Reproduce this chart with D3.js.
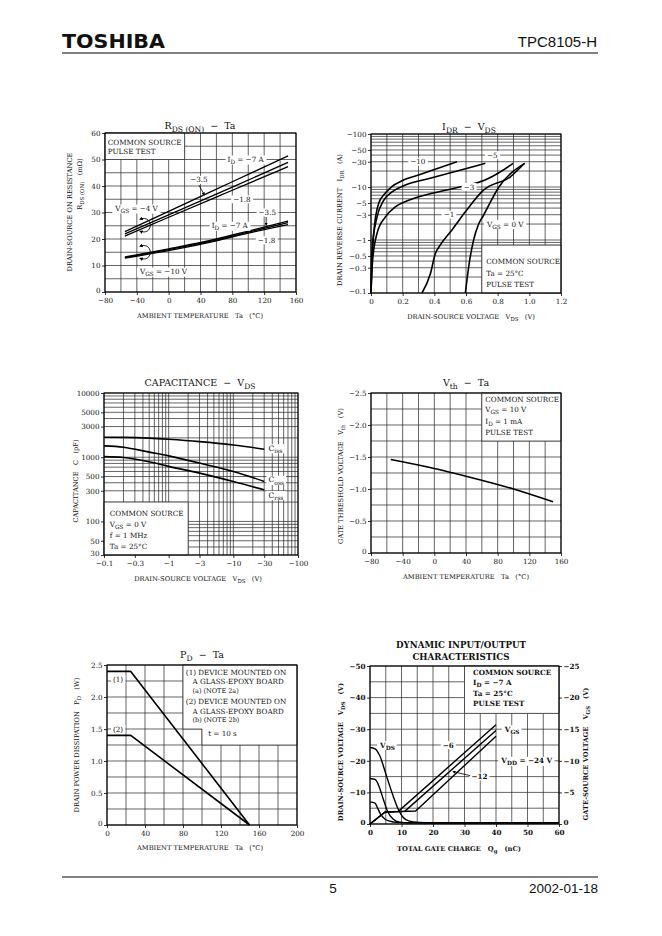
<!DOCTYPE html>
<html><head><meta charset="utf-8">
<script src="https://cdn.jsdelivr.net/npm/d3@7/dist/d3.min.js"></script>
<style>html,body{margin:0;padding:0;background:#fff;}svg{display:block;}</style>
</head><body>
<svg id="page" width="662" height="936"></svg>
<script>
// ---------------- DATA ----------------
// RDS(ON) - Ta
const rdsTa4 = [-55, 0, 80, 150];
const rds4_7A = [22.8, 30.4, 41.6, 51.4];
const rds4_3p5A = [21.9, 29.1, 39.6, 48.9];
const rds4_1p8A = [21.1, 28.2, 38.4, 47.3];
const rdsTa10 = [-55, 0, 60, 100, 150];
const rds10_7A = [13.2, 16.3, 20.0, 23.0, 26.8];
const rds10_3p5A = [13.0, 16.0, 19.6, 22.6, 26.2];
const rds10_1p8A = [12.8, 15.6, 19.3, 22.2, 25.4];
const taTicks = [-80, -40, 0, 40, 80, 120, 160];
const taLabels = ['−80', '−40', '0', '40', '80', '120', '160'];
const rdsTicks = [0, 10, 20, 30, 40, 50, 60];
const rdsLabels = ['0', '10', '20', '30', '40', '50', '60'];

// IDR - VDS  (per VGS)
const idrV_10 = [0, 0.003, 0.017, 0.048, 0.09, 0.13, 0.196, 0.30, 0.543];
const idrI_10 = [0.1, 0.2, 1.33, 4.9, 7.6, 10.1, 13.1, 16.8, 30];
const idrV_5 = [0, 0.006, 0.038, 0.08, 0.133, 0.217, 0.385, 0.722];
const idrI_5 = [0.1, 0.64, 2.7, 5.6, 8.1, 10.9, 14.9, 28];
const idrV_3 = [0, 0.01, 0.038, 0.09, 0.153, 0.238, 0.385, 0.553, 0.72, 0.80, 0.897];
const idrI_3 = [0.1, 0.41, 1.33, 2.7, 4.2, 5.6, 7.6, 9.9, 13.5, 18, 28];
const idrV_1 = [0.322, 0.375, 0.406, 0.437, 0.51, 0.596, 0.71, 0.88, 0.97];
const idrI_1 = [0.1, 0.23, 0.55, 0.8, 1.53, 3.4, 8.7, 15.6, 28];
const idrV_0 = [0.596, 0.62, 0.648, 0.68, 0.71, 0.806, 0.97];
const idrI_0 = [0.1, 0.36, 1.0, 2.0, 2.9, 9.8, 28];
const vdsTicks = [0, 0.2, 0.4, 0.6, 0.8, 1.0, 1.2];
const vdsLabels = ['0', '0.2', '0.4', '0.6', '0.8', '1.0', '1.2'];
const idrTicks = [100, 50, 30, 10, 5, 3, 1, 0.5, 0.3, 0.1];
const idrLabels = ['−100', '−50', '−30', '−10', '−5', '−3', '−1', '−0.5', '−0.3', '−0.1'];

// Capacitance - VDS
const capV = [0.1, 0.2, 0.5, 1, 3, 10, 30];
const cIss = [2050, 2040, 1980, 1900, 1750, 1550, 1330];
const cOss = [1500, 1430, 1200, 1050, 810, 600, 420];
const cRss = [1020, 990, 850, 720, 565, 418, 310];
const capXTicks = [0.1, 0.3, 1, 3, 10, 30, 100];
const capXLabels = ['−0.1', '−0.3', '−1', '−3', '−10', '−30', '−100'];
const capYTicks = [10000, 5000, 3000, 1000, 500, 300, 100, 50, 30];
const capYLabels = ['10000', '5000', '3000', '1000', '500', '300', '100', '50', '30'];

// Vth - Ta
const vthTa = [-55, 0, 40, 100, 150];
const vthV = [1.46, 1.32, 1.20, 1.00, 0.80];
const vthTicks = [0, 0.5, 1.0, 1.5, 2.0, 2.5];
const vthLabels = ['0', '−0.5', '−1.0', '−1.5', '−2.0', '−2.5'];

// PD - Ta
const pdTa = [0, 25, 150];
const pd1 = [2.4, 2.4, 0];
const pd2 = [1.4, 1.4, 0];
const pdXTicks = [0, 40, 80, 120, 160, 200];
const pdXLabels = ['0', '40', '80', '120', '160', '200'];
const pdYTicks = [0, 0.5, 1.0, 1.5, 2.0, 2.5];
const pdYLabels = ['0', '0.5', '1.0', '1.5', '2.0', '2.5'];

// Dynamic input/output
const qgVds24 = [0, 1.6, 3.1, 5.2, 7.3, 8.9, 10.4, 12.5, 15.7, 20, 60];
const vds24 = [24.2, 23.8, 21.6, 15.3, 9.0, 4.8, 2.2, 0.9, 0.5, 0.4, 0.4];
const qgVds12 = [0, 1.6, 2.6, 4.2, 5.7, 7.3, 9.4, 12.5, 20, 60];
const vds12 = [14.4, 14.1, 12.6, 7.9, 3.7, 1.6, 0.6, 0.4, 0.4, 0.4];
const qgVds6 = [0, 1.6, 2.3, 3.3, 4.7, 6.3, 8.4, 12, 60];
const vds6 = [7.0, 6.6, 5.3, 3.2, 1.6, 0.9, 0.5, 0.4, 0.4];
const qgVgs6 = [0, 4.8, 9, 40];
const vgs6 = [0, 1.9, 2.0, 15.7];
const qgVgs12 = [0, 4.8, 11, 40];
const vgs12 = [0, 1.9, 2.0, 14.8];
const qgVgs24 = [0, 4.8, 14.5, 40];
const vgs24 = [0, 1.9, 2.05, 13.9];
const qgTicks = [0, 10, 20, 30, 40, 50, 60];
const qgLabels = ['0', '10', '20', '30', '40', '50', '60'];
const dynLTicks = [0, 10, 20, 30, 40, 50];
const dynLLabels = ['0', '−10', '−20', '−30', '−40', '−50'];
const dynRTicks = [0, 5, 10, 15, 20, 25];
const dynRLabels = ['0', '−5', '−10', '−15', '−20', '−25'];

// ---------------- HELPERS ----------------
const svg = d3.select('#page');
const SERIF = '"DejaVu Serif", "Liberation Serif", serif';
const GRID = '#222';
const INK = '#111';
const TICKFS = 7.2;
const defs = svg.append('defs');
defs.append('marker').attr('id', 'ah').attr('viewBox', '0 0 6 6').attr('refX', 5).attr('refY', 3)
  .attr('markerWidth', 4).attr('markerHeight', 4).attr('orient', 'auto-start-reverse')
  .append('path').attr('d', 'M0,0L6,3L0,6Z').attr('fill', '#000');

function rich(sel, str, fs) {
  const re = /_\{([^}]*)\}/g;
  let last = 0, m; const parts = [];
  while ((m = re.exec(str))) {
    if (m.index > last) parts.push({ t: str.slice(last, m.index), sub: false });
    parts.push({ t: m[1], sub: true });
    last = re.lastIndex;
  }
  if (last < str.length) parts.push({ t: str.slice(last), sub: false });
  let shifted = false;
  parts.forEach(p => {
    const ts = sel.append('tspan').text(p.t);
    if (p.sub) { ts.attr('font-size', fs * 0.8); if (!shifted) ts.attr('dy', fs * 0.28); shifted = true; }
    else if (shifted) { ts.attr('dy', -fs * 0.28); shifted = false; }
  });
}
function txt(g, x, y, str, o = {}) {
  const fs = o.fs || 7.2;
  const t = g.append('text').attr('x', x).attr('y', y)
    .attr('font-family', o.ff || SERIF).attr('font-size', fs)
    .attr('text-anchor', o.anchor || 'start')
    .attr('font-weight', o.bold ? 'bold' : 'normal')
    .attr('fill', INK).style('white-space', 'pre');
  if (o.rotate) t.attr('transform', `rotate(${o.rotate},${x},${y})`);
  if (o.len) t.attr('textLength', o.len).attr('lengthAdjust', 'spacingAndGlyphs');
  rich(t, str, fs);
  if (o.bg) {
    const b = t.node().getBBox();
    g.insert('rect', () => t.node()).attr('x', b.x - 2).attr('y', b.y + 0.5)
      .attr('width', b.width + 4).attr('height', b.height - 1).attr('fill', '#fff');
  }
  return t;
}
function styleAxis(a, bold) {
  a.select('.domain').remove();
  a.selectAll('.tick line').attr('stroke', '#000').attr('stroke-width', 0.8);
  a.selectAll('.tick text').attr('font-family', SERIF).attr('font-size', TICKFS)
    .attr('fill', INK).attr('font-weight', bold ? 'bold' : 'normal');
}
function fmt(ticks, labels) { return d => labels[ticks.findIndex(t => Math.abs(t - d) < 1e-9)]; }

function makePanel(o) {
  const g = svg.append('g');
  const x = o.x, y = o.y;
  const [L, R] = x.range(), [B, T] = y.range();
  const grid = g.append('g').attr('stroke', GRID).attr('stroke-width', 0.7).attr('fill', 'none');
  o.xGrid.forEach(v => grid.append('line').attr('x1', x(v)).attr('x2', x(v)).attr('y1', B).attr('y2', T));
  o.yGrid.forEach(v => grid.append('line').attr('x1', L).attr('x2', R).attr('y1', y(v)).attr('y2', y(v)));
  (o.masks || []).forEach(poly => grid.append('path')
    .attr('d', 'M' + poly.map(([a, b]) => x(a) + ',' + y(b)).join('L') + 'Z').attr('fill', '#fff'));
  g.append('rect').attr('x', L).attr('y', T).attr('width', R - L).attr('height', B - T)
    .attr('fill', 'none').attr('stroke', '#000').attr('stroke-width', 1.1);
  const ax = g.append('g').attr('transform', `translate(0,${B})`)
    .call(d3.axisBottom(x).tickValues(o.xTicks).tickFormat(fmt(o.xTicks, o.xLabels)).tickSize(3).tickPadding(3));
  styleAxis(ax, o.bold);
  const ay = g.append('g').attr('transform', `translate(${L},0)`)
    .call(d3.axisLeft(y).tickValues(o.yTicks).tickFormat(fmt(o.yTicks, o.yLabels)).tickSize(3).tickPadding(1.5));
  styleAxis(ay, o.bold);
  // lift the bottom-most y label slightly so it clears the x labels
  ay.selectAll('.tick').filter(d => Math.abs(y(d) - B) < 0.5).select('text').attr('dy', '0.1em');
  return { g, x, y };
}
function curve(P, xs, ys, opt = {}) {
  const pts = xs.map((v, i) => [v, ys[i]]);
  const yS = opt.y || P.y;
  P.g.append('path').datum(pts)
    .attr('d', d3.line().x(d => P.x(d[0])).y(d => yS(d[1])).curve(opt.linear ? d3.curveLinear : d3.curveMonotoneX))
    .attr('fill', 'none').attr('stroke', '#000').attr('stroke-width', opt.w || 1.6).attr('stroke-linejoin', 'round');
}
function lab(P, xv, yv, str, o = {}) {
  return txt(P.g, P.x(xv), P.y(yv) + (o.fs || 7.2) * 0.35, str, Object.assign({ bg: true }, o));
}
function leader(P, x1, y1, x2, y2) {
  P.g.append('line').attr('x1', P.x(x1)).attr('y1', P.y(y1)).attr('x2', P.x(x2)).attr('y2', P.y(y2))
    .attr('stroke', '#000').attr('stroke-width', 0.8).attr('marker-end', 'url(#ah)');
}
function rotArrow(P, xv, yv) {
  const cx = P.x(xv), cy = P.y(yv);
  P.g.append('path').attr('d', `M${cx - 5},${cy - 6} C${cx + 9},${cy - 11} ${cx + 9},${cy + 11} ${cx - 5},${cy + 6}`)
    .attr('fill', 'none').attr('stroke', '#000').attr('stroke-width', 0.9)
    .attr('marker-start', 'url(#ah)').attr('marker-end', 'url(#ah)');
}

// ---------------- PAGE HEADER / FOOTER ----------------
txt(svg, 62, 47.5, 'TOSHIBA', { ff: '"DejaVu Sans", sans-serif', fs: 19, bold: true, len: 103 });
txt(svg, 597, 47, 'TPC8105-H', { ff: '"Liberation Sans", Arial, sans-serif', fs: 15, anchor: 'end' });
svg.append('line').attr('x1', 62).attr('x2', 598).attr('y1', 53).attr('y2', 53).attr('stroke', '#000').attr('stroke-width', 1);
svg.append('line').attr('x1', 62).attr('x2', 598).attr('y1', 877).attr('y2', 877).attr('stroke', '#000').attr('stroke-width', 1);
txt(svg, 333, 893, '5', { ff: '"Liberation Sans", Arial, sans-serif', fs: 13.5, anchor: 'middle' });
txt(svg, 598, 893, '2002-01-18', { ff: '"Liberation Sans", Arial, sans-serif', fs: 13.5, anchor: 'end' });

// ---------------- PANEL 1: RDS(ON) - Ta ----------------
const P1 = makePanel({
  x: d3.scaleLinear([-80, 160], [105, 296]), y: d3.scaleLinear([0, 60], [292, 133]),
  xGrid: d3.range(-80, 161, 20), yGrid: d3.range(0, 61, 5),
  masks: [[[-80, 50], [20, 50], [20, 60], [-80, 60]]],
  xTicks: taTicks, xLabels: taLabels, yTicks: rdsTicks, yLabels: rdsLabels
});
[rds4_7A, rds4_3p5A, rds4_1p8A].forEach(s => curve(P1, rdsTa4, s, { w: 1.3 }));
[rds10_7A, rds10_3p5A, rds10_1p8A].forEach(s => curve(P1, rdsTa10, s, { w: 1.3 }));
txt(P1.g, P1.x(-76.5), P1.y(56.6) + 2.5, 'COMMON SOURCE');
txt(P1.g, P1.x(-76.5), P1.y(52.9) + 2.5, 'PULSE TEST');
lab(P1, 74, 50, 'I_{D} = −7 A');
lab(P1, 27, 42.3, '−3.5');
leader(P1, 38, 40.3, 45, 36.6);
lab(P1, 81, 35, '−1.8');
lab(P1, -67, 31.5, 'V_{GS} = −4 V');
lab(P1, 54, 25, 'I_{D} = −7 A');
lab(P1, 113, 30, '−3.5');
leader(P1, 122.5, 28.3, 122.5, 25.2);
lab(P1, 112, 19.5, '−1.8');
lab(P1, -36, 7.7, 'V_{GS} = −10 V');
rotArrow(P1, -30, 25.2);
rotArrow(P1, -30, 15.0);
txt(svg, 200, 129, 'R_{DS (ON)}  −  Ta', { fs: 9.5, anchor: 'middle' });
txt(svg, 200, 318, 'AMBIENT TEMPERATURE   Ta   (°C)', { fs: 6.7, anchor: 'middle' });
txt(svg, 72, 212, 'DRAIN-SOURCE ON RESISTANCE', { fs: 6.7, anchor: 'middle', rotate: -90 });
txt(svg, 82, 184, 'R_{DS (ON)}   (mΩ)', { fs: 6.7, anchor: 'middle', rotate: -90 });

// ---------------- PANEL 2: IDR - VDS ----------------
const logGrid = (lo, hi) => { const a = []; for (let d = lo; d < hi; d *= 10) for (let k = 1; k < 10; k++) a.push(+(k * d).toPrecision(3)); a.push(hi); return a; };
const P2 = makePanel({
  x: d3.scaleLinear([0, 1.2], [371, 561]), y: d3.scaleLog([0.1, 100], [293, 134]),
  xGrid: d3.range(0, 1.21, 0.1), yGrid: logGrid(0.1, 100),
  masks: [[[0.7, 0.1], [1.2, 0.1], [1.2, 0.8], [0.7, 0.8]]],
  xTicks: vdsTicks, xLabels: vdsLabels, yTicks: idrTicks, yLabels: idrLabels
});
curve(P2, idrV_10, idrI_10); curve(P2, idrV_5, idrI_5); curve(P2, idrV_3, idrI_3);
curve(P2, idrV_1, idrI_1); curve(P2, idrV_0, idrI_0);
lab(P2, 0.248, 30, '−10');
lab(P2, 0.733, 40, '−5');
lab(P2, 0.585, 10, '−3');
lab(P2, 0.459, 3, '−1');
lab(P2, 0.733, 2, 'V_{GS} = 0 V');
txt(P2.g, P2.x(0.728), P2.y(0.386) + 2.5, 'COMMON SOURCE');
txt(P2.g, P2.x(0.728), P2.y(0.235) + 2.5, 'Ta = 25°C');
txt(P2.g, P2.x(0.728), P2.y(0.146) + 2.5, 'PULSE TEST');
txt(svg, 469, 130, 'I_{DR}  −  V_{DS}', { fs: 9.5, anchor: 'middle' });
txt(svg, 471, 319, 'DRAIN-SOURCE VOLTAGE   V_{DS}   (V)', { fs: 6.7, anchor: 'middle' });
txt(svg, 342, 220, 'DRAIN REVERSE CURRENT   I_{DR}   (A)', { fs: 6.7, anchor: 'middle', rotate: -90 });

// ---------------- PANEL 3: Capacitance ----------------
const P3 = makePanel({
  x: d3.scaleLog([0.1, 100], [104, 298]), y: d3.scaleLog([30, 10000], [555, 393]),
  xGrid: logGrid(0.1, 100), yGrid: logGrid(10, 10000).filter(v => v >= 30),
  masks: [[[0.1, 30], [2, 30], [2, 200], [0.1, 200]]],
  xTicks: capXTicks, xLabels: capXLabels, yTicks: capYTicks, yLabels: capYLabels
});
curve(P3, capV, cIss); curve(P3, capV, cOss); curve(P3, capV, cRss);
lab(P3, 35, 1387, 'C_{iss}', { fs: 7.5 });
lab(P3, 35, 445, 'C_{oss}', { fs: 7.5 });
lab(P3, 35, 259, 'C_{rss}', { fs: 7.5 });
txt(P3.g, P3.x(0.123), P3.y(131) + 2.5, 'COMMON SOURCE');
txt(P3.g, P3.x(0.123), P3.y(88.5) + 2.5, 'V_{GS} = 0 V');
txt(P3.g, P3.x(0.123), P3.y(60) + 2.5, 'f = 1 MHz');
txt(P3.g, P3.x(0.123), P3.y(40.5) + 2.5, 'Ta = 25°C');
txt(svg, 200, 386, 'CAPACITANCE  −  V_{DS}', { fs: 9.5, anchor: 'middle' });
txt(svg, 198, 581, 'DRAIN-SOURCE VOLTAGE   V_{DS}   (V)', { fs: 6.7, anchor: 'middle' });
txt(svg, 78, 481, 'CAPACITANCE   C   (pF)', { fs: 6.7, anchor: 'middle', rotate: -90 });

// ---------------- PANEL 4: Vth - Ta ----------------
const P4 = makePanel({
  x: d3.scaleLinear([-80, 160], [371, 561]), y: d3.scaleLinear([0, 2.5], [553, 393]),
  xGrid: d3.range(-80, 161, 20), yGrid: d3.range(0, 2.51, 0.25),
  masks: [[[60, 1.75], [160, 1.75], [160, 2.5], [60, 2.5]]],
  xTicks: taTicks, xLabels: taLabels, yTicks: vthTicks, yLabels: vthLabels
});
curve(P4, vthTa, vthV);
txt(P4.g, P4.x(64.4), P4.y(2.406) + 2.5, 'COMMON SOURCE');
txt(P4.g, P4.x(64.4), P4.y(2.239) + 2.5, 'V_{GS} = 10 V');
txt(P4.g, P4.x(64.4), P4.y(2.055) + 2.5, 'I_{D} = 1 mA');
txt(P4.g, P4.x(64.4), P4.y(1.89) + 2.5, 'PULSE TEST');
txt(svg, 466, 386, 'V_{th}  −  Ta', { fs: 9.5, anchor: 'middle' });
txt(svg, 466, 579, 'AMBIENT TEMPERATURE   Ta   (°C)', { fs: 6.7, anchor: 'middle' });
txt(svg, 343, 476, 'GATE THRESHOLD VOLTAGE   V_{th}   (V)', { fs: 6.7, anchor: 'middle', rotate: -90 });

// ---------------- PANEL 5: PD - Ta ----------------
const P5 = makePanel({
  x: d3.scaleLinear([0, 200], [107, 297]), y: d3.scaleLinear([0, 2.5], [825, 665]),
  xGrid: d3.range(0, 201, 20), yGrid: d3.range(0, 2.51, 0.25),
  masks: [[[80, 2.5], [200, 2.5], [200, 1.25], [100, 1.25], [100, 1.5], [80, 1.5]]],
  xTicks: pdXTicks, xLabels: pdXLabels, yTicks: pdYTicks, yLabels: pdYLabels
});
curve(P5, pdTa, pd1, { linear: true }); curve(P5, pdTa, pd2, { linear: true });
lab(P5, 6.3, 2.28, '(1)');
lab(P5, 6.3, 1.5, '(2)');
txt(P5.g, P5.x(83), P5.y(2.386) + 2.5, '(1) DEVICE MOUNTED ON');
txt(P5.g, P5.x(90), P5.y(2.239) + 2.5, 'A GLASS-EPOXY BOARD');
txt(P5.g, P5.x(90), P5.y(2.094) + 2.2, '(a) (NOTE 2a)', { fs: 6.5 });
txt(P5.g, P5.x(83), P5.y(1.927) + 2.5, '(2) DEVICE MOUNTED ON');
txt(P5.g, P5.x(90), P5.y(1.781) + 2.5, 'A GLASS-EPOXY BOARD');
txt(P5.g, P5.x(90), P5.y(1.64) + 2.2, '(b) (NOTE 2b)', { fs: 6.5 });
txt(P5.g, P5.x(106.5), P5.y(1.433) + 2.5, 't = 10 s');
txt(svg, 202, 658, 'P_{D}  −  Ta', { fs: 9.5, anchor: 'middle' });
txt(svg, 200, 850, 'AMBIENT TEMPERATURE   Ta   (°C)', { fs: 6.7, anchor: 'middle' });
txt(svg, 79, 745, 'DRAIN POWER DISSIPATION   P_{D}   (W)', { fs: 6.7, anchor: 'middle', rotate: -90 });

// ---------------- PANEL 6: Dynamic ----------------
const P6 = makePanel({
  x: d3.scaleLinear([0, 60], [370, 559]), y: d3.scaleLinear([0, 50], [824, 666]),
  xGrid: d3.range(0, 61, 5), yGrid: d3.range(0, 51, 5),
  masks: [[[30, 35], [60, 35], [60, 50], [30, 50]]],
  xTicks: qgTicks, xLabels: qgLabels, yTicks: dynLTicks, yLabels: dynLLabels, bold: true
});
const yR = d3.scaleLinear([0, 25], [824, 666]);
const ar = P6.g.append('g').attr('transform', 'translate(559,0)')
  .call(d3.axisRight(yR).tickValues(dynRTicks).tickFormat(fmt(dynRTicks, dynRLabels)).tickSize(3).tickPadding(1.5));
styleAxis(ar, true);
ar.selectAll('.tick').filter(d => d === 0).select('text').attr('dy', '0.1em');
curve(P6, qgVds24, vds24, { w: 1.4 }); curve(P6, qgVds12, vds12, { w: 1.4 }); curve(P6, qgVds6, vds6, { w: 1.4 });
curve(P6, qgVgs6, vgs6, { y: yR, linear: true, w: 1.4 });
curve(P6, qgVgs12, vgs12, { y: yR, linear: true, w: 1.4 });
curve(P6, qgVgs24, vgs24, { y: yR, linear: true, w: 1.4 });
lab(P6, 3.2, 25, 'V_{DS}', { bold: true });
lab(P6, 23.1, 25, '−6', { bold: true });
lab(P6, 42.8, 30, 'V_{GS}', { bold: true });
lab(P6, 41.7, 20, 'V_{DD} = −24 V', { bold: true });
lab(P6, 32.2, 15, '−12', { bold: true });
leader(P6, 31.8, 15.3, 26.3, 16.6);
txt(P6.g, P6.x(32.7), P6.y(48) + 2.5, 'COMMON SOURCE', { bold: true });
txt(P6.g, P6.x(32.7), P6.y(44.8) + 2.5, 'I_{D} = −7 A', { bold: true });
txt(P6.g, P6.x(32.7), P6.y(41.4) + 2.5, 'Ta = 25°C', { bold: true });
txt(P6.g, P6.x(32.7), P6.y(38) + 2.5, 'PULSE TEST', { bold: true });
txt(svg, 461, 648, 'DYNAMIC INPUT/OUTPUT', { fs: 8.7, anchor: 'middle', bold: true });
txt(svg, 461, 660, 'CHARACTERISTICS', { fs: 8.7, anchor: 'middle', bold: true });
txt(svg, 459, 851, 'TOTAL GATE CHARGE   Q_{g}   (nC)', { fs: 6.7, anchor: 'middle', bold: true });
txt(svg, 343, 752, 'DRAIN-SOURCE VOLTAGE   V_{DS}   (V)', { fs: 6.7, anchor: 'middle', rotate: -90, bold: true });
txt(svg, 588, 754, 'GATE-SOURCE VOLTAGE   V_{GS}   (V)', { fs: 6.7, anchor: 'middle', rotate: -90, bold: true });
</script>
</body></html>
